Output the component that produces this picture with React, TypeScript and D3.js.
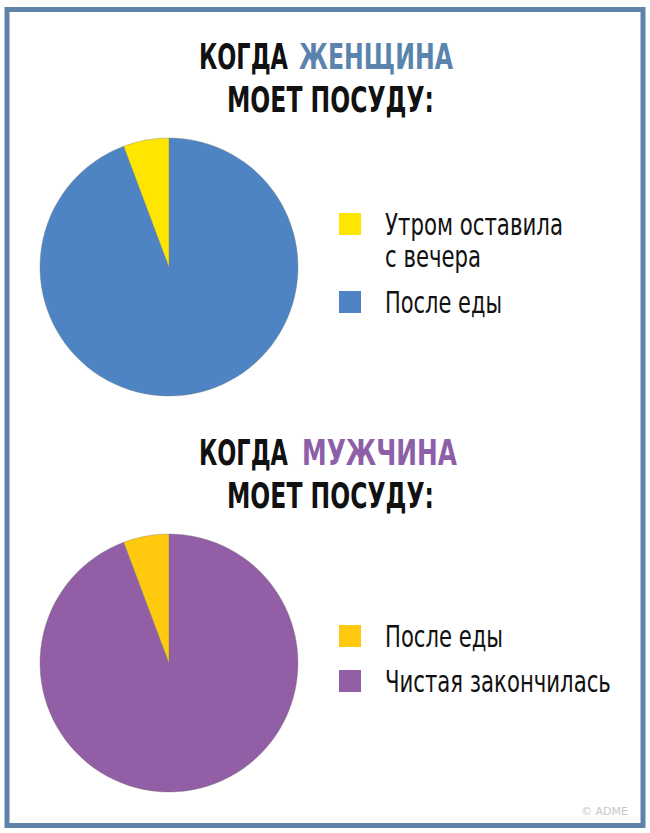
import { useEffect, useLayoutEffect, useRef, useState } from 'react';
import * as d3 from 'd3';

// chart 1 (woman)
const womanTitleLead = 'КОГДА';
const womanTitleWord = 'ЖЕНЩИНА';
const womanLabels = ['Утром оставила|с вечера', 'После еды'];
const womanValues = [5.7, 94.3];
const womanColors = ['#ffe600', '#4f84c4'];

// chart 2 (man)
const manTitleLead = 'КОГДА';
const manTitleWord = 'МУЖЧИНА';
const manLabels = ['После еды', 'Чистая закончилась'];
const manValues = [5.7, 94.3];
const manColors = ['#fec90e', '#925ea6'];

const subtitle = 'МОЕТ ПОСУДУ:';

// layout only: rendered widths of the narrow lettering in the reference
const womanLegendWidths = [[178, 96], [117]];
const manLegendWidths = [[118], [226]];

const FONT = '"Liberation Sans Narrow", "DejaVu Sans Condensed", "Roboto", sans-serif';

interface FitTextProps {
  x: number;
  y: number;
  width: number;
  size: number;
  fill: string;
  bold?: boolean;
  children: string;
}

// squeeze a text horizontally to a given width (the reference uses a very narrow face)
const FitText = ({ x, y, width, size, fill, bold, children }: FitTextProps) => {
  const ref = useRef<SVGTextElement>(null);
  const [k, setK] = useState(1);

  useLayoutEffect(() => {
    if (!ref.current) return;
    const natural = ref.current.getComputedTextLength();
    if (natural > 0) setK(width / natural);
  }, [width, children, size]);

  return (
    <text ref={ref} transform={`translate(${x},${y}) scale(${k},1)`} fontFamily={FONT}
      fontWeight={bold ? 'bold' : 'normal'} fontSize={size} fill={fill}>
      {children}
    </text>
  );
};

interface PanelProps {
  top: number;
  lead: string;
  word: string;
  wordColor: string;
  wordBox: [number, number];
  labels: string[];
  values: number[];
  colors: string[];
  legendY: number[];
  legendWidths: number[][];
}

const Panel = ({ top, lead, word, wordColor, wordBox, labels, values, colors, legendY, legendWidths }: PanelProps) => {
  const radius = 129;
  const cx = 169;
  const cy = top + 228;

  // slices drawn clockwise from 12 o'clock; the small slice ends at the top
  const items = labels.map((l, i) => ({ label: l, value: values[i], color: colors[i] }));
  const pie = d3.pie<typeof items[number]>().sort(null).value(d => d.value);
  const arcs = pie(items.slice().reverse());
  const arc = d3.arc<d3.PieArcDatum<typeof items[number]>>().innerRadius(0).outerRadius(radius);

  return (
    <g>
      {/* title */}
      <FitText x={199} y={top + 30} width={89} size={36} fill="#111" bold>{lead}</FitText>
      <FitText x={wordBox[0]} y={top + 30} width={wordBox[1]} size={36} fill={wordColor} bold>{word}</FitText>
      <FitText x={227} y={top + 73} width={207} size={36} fill="#111" bold>{subtitle}</FitText>

      {/* pie */}
      <g transform={`translate(${cx},${cy})`}>
        {arcs.map((a, i) => (
          <path key={i} d={arc(a) || ''} fill={a.data.color} stroke="#6f7a6a" strokeWidth={0.6} strokeOpacity={0.6} />
        ))}
      </g>

      {/* legend */}
      {items.map((d, i) => {
        const lines = d.label.split('|');
        return (
          <g key={i}>
            <rect x={339} y={legendY[i]} width={22} height={22} fill={d.color} />
            {lines.map((ln, j) => (
              <FitText key={j} x={385} y={legendY[i] + 22 + j * 32} width={legendWidths[i][j]}
                size={30} fill="#111">{ln}</FitText>
            ))}
          </g>
        );
      })}
    </g>
  );
};

const App = () => {
  useEffect(() => {
    document.body.style.margin = '0';
  }, []);

  return (
    <svg width={650} height={833} style={{ display: 'block', background: '#fff' }}>
      <rect x={0} y={0} width={650} height={833} fill="#fff" />
      <rect x={7} y={9.5} width={636} height={816} fill="none" stroke="#5f82a8" strokeWidth={5} />

      <Panel top={39} lead={womanTitleLead} word={womanTitleWord} wordColor="#5a84ae" wordBox={[299, 154]}
        labels={womanLabels} values={womanValues} colors={womanColors} legendY={[213, 291]}
        legendWidths={womanLegendWidths} />
      <Panel top={435} lead={manTitleLead} word={manTitleWord} wordColor="#8c5fa8" wordBox={[302, 155]}
        labels={manLabels} values={manValues} colors={manColors} legendY={[625, 670]}
        legendWidths={manLegendWidths} />

      <text x={628} y={815} textAnchor="end" fontFamily="DejaVu Sans, sans-serif" fontSize={11}
        fill="#c4c8cc">© ADME</text>
    </svg>
  );
};

export default App;
